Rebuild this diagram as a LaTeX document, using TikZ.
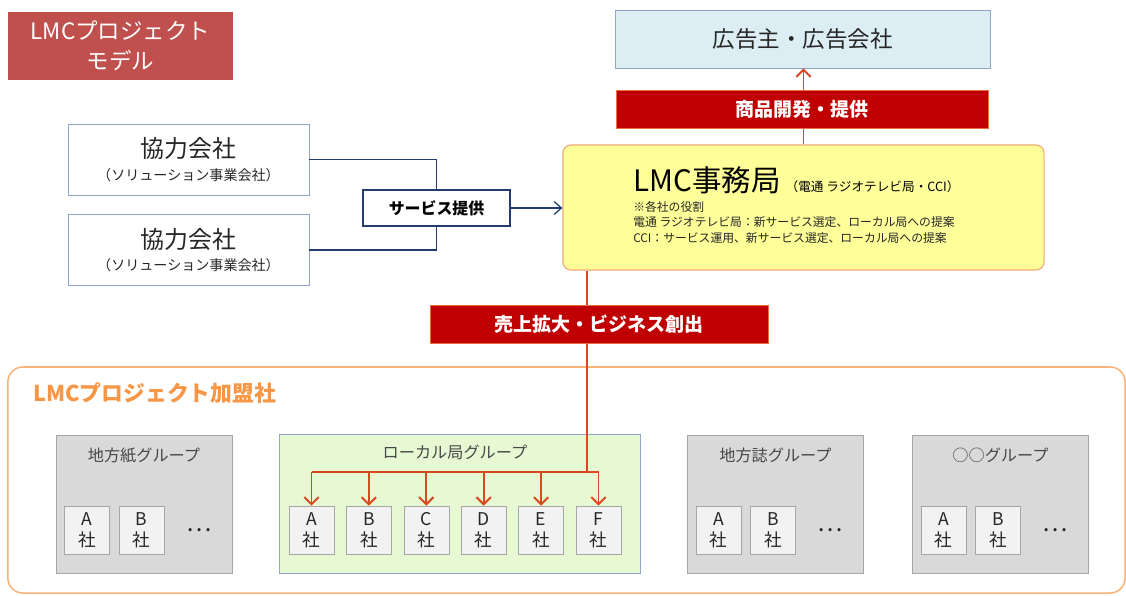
\documentclass[tikz,border=0pt]{standalone}
\usepackage{fontspec}
\setmainfont{Noto Sans CJK JP}
\usepackage{xcolor}
\definecolor{titlered}{HTML}{C0504D}
\definecolor{barred}{HTML}{C00000}
\definecolor{barrim}{HTML}{E8703A}
\definecolor{flowred}{HTML}{D9481E}
\definecolor{clientblue}{HTML}{DCEEF4}
\definecolor{rimblue}{HTML}{8EA4C8}
\definecolor{navy}{HTML}{223C70}
\definecolor{officeyellow}{HTML}{FFFF99}
\definecolor{officerim}{HTML}{F2A878}
\definecolor{frameorange}{HTML}{F9B47E}
\definecolor{labelorange}{HTML}{F79646}
\definecolor{groupgray}{HTML}{D9D9D9}
\definecolor{rimgray}{HTML}{A6A6A6}
\definecolor{localgreen}{HTML}{E6F9D3}
\definecolor{companygray}{HTML}{F2F2F2}
\definecolor{textdark}{HTML}{262626}
\usetikzlibrary{arrows.meta,positioning}

\begin{document}
\begin{tikzpicture}[x=0.025cm, y=-0.025cm,
    titlebox/.style={rectangle, fill=titlered, text=white, minimum width=5.625cm, minimum height=1.7cm, inner sep=0pt, align=center, font=\fontsize{16}{21}\selectfont},
    clientbox/.style={rectangle, draw=rimblue, fill=clientblue, text=textdark, minimum width=9.375cm, minimum height=1.45cm, inner sep=0pt, font=\fontsize{16}{20}\selectfont},
    redbar/.style={rectangle, draw=barrim, fill=barred, text=white, minimum height=0.95cm, inner sep=0pt, font=\bfseries\fontsize{13.5}{16}\selectfont},
    officebox/.style={rectangle, rounded corners=0.2cm, draw=officerim, fill=officeyellow, minimum width=12.025cm, minimum height=3.125cm, line width=0.8pt},
    partnerbox/.style={rectangle, draw=rimblue, fill=white, text=textdark, minimum width=6.025cm, minimum height=1.775cm, inner sep=0pt, align=center, font=\fontsize{17}{22}\selectfont},
    servicebox/.style={rectangle, draw=navy, fill=white, text=black, minimum width=3.675cm, minimum height=0.9cm, inner sep=0pt, line width=1.3pt, font=\bfseries\fontsize{11.3}{14}\selectfont},
    navyline/.style={navy, line width=0.9pt},
    navyarrow/.style={navy, line width=0.9pt, -{Straight Barb[length=1.8mm, width=3.2mm]}},
    redline/.style={flowred, line width=1.4pt},
    redarrow/.style={flowred, line width=1.4pt, -{Straight Barb[length=1.8mm, width=3.6mm]}},
    memberframe/.style={rectangle, rounded corners=0.375cm, draw=frameorange, line width=1.1pt, minimum width=27.925cm, minimum height=5.65cm},
    groupbox/.style={rectangle, draw=rimgray, fill=groupgray, minimum width=4.4cm, minimum height=3.45cm},
    localbox/.style={rectangle, draw=rimblue, fill=localgreen, minimum width=9.025cm, minimum height=3.475cm},
    grouptitle/.style={text=textdark!85, font=\fontsize{11.5}{14}\selectfont},
    company/.style={rectangle, draw=rimgray, fill=companygray, text=textdark, minimum width=1.125cm, minimum height=1.2cm, inner sep=0pt, align=center, font=\fontsize{12.5}{15}\selectfont},
    more/.style={text=textdark, font=\fontsize{17}{20}\selectfont}
  ]
  \useasboundingbox (0,0) rectangle (1126,595);

  \node[titlebox] (title) at (120.5,46) {LMCプロジェクト\\モデル};
  \node[clientbox] (client) at (802.5,39) {広告主・広告会社};
  \node[officebox] (office) at (803.5,207.5) {};
  \node[anchor=west, inner sep=0pt, text=black, font=\fontsize{21}{24}\selectfont] (officehead) at (633,180)
    {LMC事務局\,{\fontsize{9}{11}\selectfont （電通 ラジオテレビ局・CCI）}};
  \node[anchor=north west, inner sep=0pt, align=left, text=textdark, font=\fontsize{8.4}{11}\selectfont] (officeroles) at (633,201)
    {※各社の役割\\電通 ラジオテレビ局：新サービス選定、ローカル局への提案\\CCI：サービス運用、新サービス選定、ローカル局への提案};

  \draw[redarrow] (office.north) -- (office.north |- client.south);
  \node[redbar, minimum width=9.3cm] (develop) at (802,109) {商品開発・提供};

  \node[partnerbox] (partnerA) at (188.5,159.5) {協力会社\\[-6pt]{\fontsize{10}{12}\selectfont （ソリューション事業会社）}};
  \node[partnerbox] (partnerB) at (188.5,250) {協力会社\\[-6pt]{\fontsize{10}{12}\selectfont （ソリューション事業会社）}};
  \node[servicebox] (service) at (436.5,208) {サービス提供};
  \draw[navyline] (partnerA.east) -| (service.north);
  \draw[navyline] (partnerB.east) -| (service.south);
  \draw[navyarrow] (service.east) -- (service.east -| office.west);

  \node[memberframe] (members) at (566.5,480) {};
  \node[anchor=west, inner sep=0pt, text=labelorange, font=\bfseries\fontsize{15.5}{19}\selectfont] (memberlabel) at (33,393) {LMCプロジェクト加盟社};

  \foreach \g/\gx/\gname in {paper/144/地方紙グループ, magazine/775.5/地方誌グループ, other/1000.5/○○グループ} {
    \node[groupbox] (\g) at (\gx,504) {};
    \node[grouptitle] (\g title) at (\gx,455) {\gname};
    \node[company] (\g A) at (\gx-57,530) {A\\社};
    \node[company] (\g B) at (\gx-2.5,530) {B\\社};
    \node[more] (\g more) at (\gx+55,530) {…};
  }

  \node[localbox] (local) at (459.5,503.5) {};
  \node[grouptitle] (localtitle) at (455,452) {ローカル局グループ};
  \coordinate (hub) at (587,472);
  \draw[redline] (office.south -| hub) -- (hub);
  \node[redbar, minimum width=8.45cm] (sales) at (599,324) {売上拡大・ビジネス創出};
  \foreach \co [count=\i from 0] in {A,B,C,D,E,F} {
    \node[company] (local\co) at ({311.5+57.4*\i},530) {\co\\社};
    \draw[redarrow] (local\co.north |- hub) -- (local\co.north);
  }
  \draw[redline] (localA.north |- hub) -- (localF.north |- hub);
\end{tikzpicture}
\end{document}
